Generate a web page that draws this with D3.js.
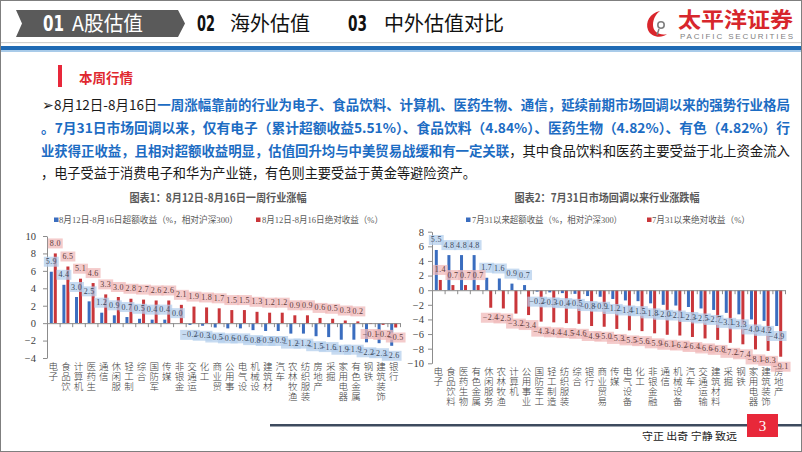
<!DOCTYPE html>
<html><head><meta charset="utf-8">
<script src="https://cdn.jsdelivr.net/npm/d3@7"></script>
<style>
html,body{margin:0;padding:0;background:#fff;}
svg{display:block;}
</style></head>
<body>
<svg id="chart" width="802" height="452"></svg>
<script>
// ---------- DATA ----------
const cats1 = ["电子","食品饮","计算机","医药生","通信","休闲服","轻工制","综合","国防军","传媒","非银金","交通运","化工","商业贸","公用事","电气设","机械设","建筑材","汽车","农林牧渔","纺织服装","房地产","采掘","家用电器","有色金属","钢铁","建筑装饰","银行"];
const excess1 = [5.9,4.4,3.0,2.5,1.2,0.9,0.7,0.5,0.4,0.4,0.0,-0.2,-0.3,-0.5,-0.6,-0.6,-0.8,-0.9,-0.9,-1.2,-1.2,-1.5,-1.6,-1.9,-1.9,-2.2,-2.3,-2.6];
const abs1 = [8.0,6.5,5.1,4.6,3.3,3.0,2.8,2.7,2.6,2.6,2.1,1.9,1.8,1.7,1.5,1.5,1.3,1.2,1.2,0.9,0.9,0.6,0.5,0.3,0.2,-0.1,-0.2,-0.5];
const yTicks1 = [-4,-2,0,2,4,6,8,10];
const title1 = "图表1：8月12日-8月16日一周行业涨幅";
const legend1 = ["8月12日-8月16日超额收益（%，相对沪深300）","8月12日-8月16日绝对收益（%）"];

const cats2 = ["电子","食品饮料","医药生物","有色金属","休闲服务","农林牧渔","计算机","公用事业","国防军工","轻工制造","纺织服装","综合","银行","商业贸易","传媒","电气设备","化工","非银金融","通信","机械设备","汽车","交通运输","建筑材料","采掘","钢铁","家用电器","建筑装饰","房地产"];
const excess2 = [5.5,4.8,4.8,4.8,1.7,1.6,0.9,0.7,-0.2,-0.3,-0.4,-0.5,-0.8,-0.9,-1.2,-1.4,-1.5,-1.8,-2.0,-2.1,-2.3,-2.5,-2.7,-3.1,-3.3,-4.0,-4.2,-4.9];
const abs2 = [1.4,0.7,0.7,0.7,-2.4,-2.5,-3.2,-3.4,-4.3,-4.4,-4.5,-4.6,-4.9,-5.0,-5.3,-5.5,-5.6,-5.9,-6.1,-6.2,-6.4,-6.6,-6.8,-7.2,-7.4,-8.1,-8.3,-9.1];
const yTicks2 = [-10,-8,-6,-4,-2,0,2,4,6,8];
const title2 = "图表2：7月31日市场回调以来行业涨跌幅";
const legend2 = ["7月31以来超额收益（%，相对沪深300）","7月31以来绝对收益（%）"];

const navItems = [["01","A股估值"],["02","海外估值"],["03","中外估值对比"]];
const sectionTitle = "本周行情";
const paraLines = [
  [["➢8月12日-8月16日",0],["一周涨幅靠前的行业为电子、食品饮料、计算机、医药生物、通信，延续前期市场回调以来的强势行业格局",1]],
  [["。7月31日市场回调以来，仅有电子（累计超额收益5.51%）、食品饮料（4.84%）、医药生物（4.82%）、有色（4.82%）行",1]],
  [["业获得正收益，且相对超额收益明显，估值回升均与中美贸易战缓和有一定关联",1],["，其中食品饮料和医药主要受益于北上资金流入",0]],
  [["，电子受益于消费电子和华为产业链，有色则主要受益于黄金等避险资产。",0]]
];
const footerMotto = "守正 出奇 宁静 致远";
const pageNo = "3";

// ---------- STYLE ----------
const CJK = "'Noto Sans CJK SC', sans-serif";
const SERIF = "'Liberation Serif', 'Noto Sans CJK SC', serif";
const BLUE = "#3a6dbf", RED = "#c9363a";
const svg = d3.select("#chart");

// frame
svg.append("rect").attr("x",0.5).attr("y",0.5).attr("width",801).attr("height",451)
  .attr("fill","none").attr("stroke","#7f7f7f").attr("stroke-width",1);

// ---------- HEADER ----------
svg.append("path").attr("d","M16,10 L178,10 L185,23.5 L178,37 L16,37 L22,23.5 Z").attr("fill","#5a5a5a");
const navPos = [{n:43,nw:21,t:72,tw:71,c:"#fff"},{n:197,nw:18,t:230,tw:80,c:"#111"},{n:348,nw:19,t:384,tw:120,c:"#111"}];
navItems.forEach((d,i)=>{
  const p = navPos[i];
  svg.append("text").attr("x",p.n).attr("y",31).text(d[0])
    .attr("font-family","'DejaVu Sans Condensed','Liberation Sans Narrow',sans-serif").attr("font-weight","bold")
    .attr("font-size",21).attr("fill",p.c).attr("textLength",p.nw).attr("lengthAdjust","spacingAndGlyphs");
  svg.append("text").attr("x",p.t).attr("y",31).text(d[1])
    .attr("font-family",CJK).attr("font-size",20).attr("fill",p.c)
    .attr("textLength",p.tw).attr("lengthAdjust","spacingAndGlyphs");
});
// logo
const lg = svg.append("g");
lg.append("path").attr("d","M660,11 C650,13 645,22 648,30 C651,37 661,39 667,34 C660,36 653,32 653,25 C653,18 657,13 660,11 Z").attr("fill","#d9262c");
lg.append("circle").attr("cx",661).attr("cy",25).attr("r",3.2).attr("fill","none").attr("stroke","#7f7f7f").attr("stroke-width",1.6);
lg.append("path").attr("d","M659,29 L657,35").attr("stroke","#7f7f7f").attr("stroke-width",1.5);
svg.append("text").attr("x",678).attr("y",27).text("太平洋证券").attr("font-family",CJK).attr("font-weight","bold")
  .attr("font-size",21).attr("fill","#d7262c").attr("textLength",115).attr("lengthAdjust","spacingAndGlyphs");
svg.append("text").attr("x",680).attr("y",38.5).text("PACIFIC SECURITIES").attr("font-family","'Liberation Sans',sans-serif")
  .attr("font-size",8).attr("fill","#7f7f7f").attr("textLength",113).attr("lengthAdjust","spacing");
// header lines
svg.append("rect").attr("x",1).attr("y",42).attr("width",800).attr("height",1.2).attr("fill","#d0d0d0");
svg.append("rect").attr("x",1).attr("y",46).attr("width",800).attr("height",4).attr("fill","#1f6ab4");
svg.append("rect").attr("x",1).attr("y",50).attr("width",800).attr("height",2).attr("fill","#a9cbe9");

// ---------- SECTION & PARAGRAPH ----------
svg.append("rect").attr("x",58).attr("y",65).attr("width",4).attr("height",22).attr("fill","#e8283a");
svg.append("text").attr("x",79).attr("y",83).text(sectionTitle).attr("font-family",CJK).attr("font-weight","bold")
  .attr("font-size",13.5).attr("fill","#e0282f");
const paraGeom = [{x:42,y:110,w:748},{x:41,y:133,w:749},{x:41,y:156,w:749},{x:41,y:178,w:435}];
paraLines.forEach((line,i)=>{
  const g = paraGeom[i];
  const t = svg.append("text").attr("x",g.x).attr("y",g.y).attr("font-family",CJK).attr("font-size",13.5)
    .attr("textLength",g.w).attr("lengthAdjust","spacingAndGlyphs");
  line.forEach(seg=>{
    t.append("tspan").text(seg[0]).attr("fill",seg[1]?"#1c6cc3":"#1a1a1a").attr("font-weight",seg[1]?"bold":"normal");
  });
});

// ---------- CHARTS ----------
function drawChart(o){
  const g = svg.append("g");
  const x = d3.scaleBand().domain(d3.range(o.cats.length)).range(o.xr).paddingInner(0).paddingOuter(0);
  const y = d3.scaleLinear().domain(o.yd).range(o.yr);
  const bw = 3, off = 2;
  // title
  g.append("text").attr("x",o.titleX).attr("y",o.titleY).attr("text-anchor","middle").text(o.title)
    .attr("font-family",CJK).attr("font-weight","bold").attr("font-size",11).attr("fill","#595959")
    .attr("textLength",o.titleW).attr("lengthAdjust","spacingAndGlyphs");
  // legend
  o.legend.forEach((txt,i)=>{
    const L = o.leg[i];
    g.append("rect").attr("x",L.sx).attr("y",o.legY-2.5).attr("width",4.5).attr("height",4.5).attr("fill",i?RED:BLUE);
    g.append("text").attr("x",L.tx).attr("y",o.legY+3.2).text(txt).attr("font-family",SERIF).attr("font-size",9)
      .attr("fill","#595959").attr("textLength",L.tw).attr("lengthAdjust","spacingAndGlyphs");
  });
  // y axis
  const ya = g.append("g").attr("transform",`translate(${o.xr[0]},0)`)
    .call(d3.axisLeft(y).tickValues(o.ticks).tickSize(4).tickSizeOuter(0).tickPadding(o.tickPad).tickFormat(d3.format("d")));
  ya.select(".domain").attr("stroke","#8c8c8c");
  ya.selectAll(".tick line").attr("stroke","#8c8c8c");
  ya.selectAll(".tick text").attr("font-family",SERIF).attr("font-size",10.5).attr("fill","#404040");
  // bars
  const idx = d3.range(o.cats.length);
  g.selectAll(".b1").data(idx).join("rect")
    .attr("x",i=>x(i)+x.bandwidth()/2-off-bw/2).attr("width",bw)
    .attr("y",i=>y(Math.max(0,o.ex[i]))).attr("height",i=>Math.abs(y(o.ex[i])-y(0)))
    .attr("fill",BLUE);
  g.selectAll(".b2").data(idx).join("rect")
    .attr("x",i=>x(i)+x.bandwidth()/2+off-bw/2).attr("width",bw)
    .attr("y",i=>y(Math.max(0,o.ab[i]))).attr("height",i=>Math.abs(y(o.ab[i])-y(0)))
    .attr("fill",RED);
  // x axis at zero
  const xi = d3.scaleLinear().domain([0,o.cats.length]).range(o.xr);
  const xa = g.append("g").attr("transform",`translate(0,${y(0)})`)
    .call(d3.axisBottom(xi).tickValues(d3.range(o.cats.length+1)).tickSize(4).tickSizeOuter(0).tickFormat(""));
  xa.select(".domain").attr("stroke","#8c8c8c");
  xa.selectAll(".tick line").attr("stroke","#8c8c8c");
  // category labels (vertical writing)
  g.selectAll(".cat").data(o.cats).join("text").attr("class","cat")
    .attr("x",(d,i)=>x(i)+x.bandwidth()/2).attr("y",o.catY).text(d=>d)
    .attr("writing-mode","vertical-rl").attr("text-anchor","start")
    .attr("letter-spacing",0.5)
    .attr("font-family",CJK).attr("font-size",9.5).attr("font-weight",300).attr("fill","#404040");
  // data labels: boxes first, then texts
  const fmt = d3.format(".1f");
  const boxLayer = g.append("g"), textLayer = g.append("g");
  function labels(vals, dx, fill, tcol){
    vals.forEach((v,i)=>{
      const cx = x(i)+x.bandwidth()/2+dx;
      const cy = v>=0 ? y(v)-10 : y(v)+10;
      const t = textLayer.append("text").attr("x",cx).attr("y",cy).text(fmt(v)).attr("text-anchor","middle")
        .attr("dominant-baseline","central").attr("font-family",SERIF).attr("font-size",8)
        .attr("letter-spacing",0.3).attr("fill",tcol);
      const w = t.node().getComputedTextLength()+4;
      boxLayer.append("rect").attr("x",cx-w/2).attr("y",cy-5).attr("width",w).attr("height",10).attr("fill",fill);
    });
  }
  labels(o.ex,-off,"rgba(180,207,236,0.75)","#3b4a5e");
  labels(o.ab,off,"rgba(240,186,186,0.75)","#5e3b3b");
}

drawChart({cats:cats1, ex:excess1, ab:abs1, xr:[47,400], yd:[-4,10], yr:[358,236], ticks:yTicks1, tickPad:7,
  title:title1, titleX:218, titleY:202, titleW:177,
  legend:legend1, legY:220, leg:[{sx:54,tx:59,tw:179},{sx:256,tx:262,tw:121}], catY:362});
drawChart({cats:cats2, ex:excess2, ab:abs2, xr:[432,785], yd:[-10,8], yr:[363.3,231.7], ticks:yTicks2, tickPad:4,
  title:title2, titleX:607, titleY:202, titleW:185,
  legend:legend2, legY:220, leg:[{sx:466,tx:472,tw:150},{sx:647,tx:652,tw:98}], catY:367});

// ---------- FOOTER ----------
svg.append("rect").attr("x",270).attr("y",424).attr("width",532).attr("height",2.5).attr("fill","#3d4b5e");
svg.append("rect").attr("x",747).attr("y",414).attr("width",31).attr("height",23).attr("fill","#e8283a");
svg.append("text").attr("x",762.5).attr("y",431).attr("text-anchor","middle").text(pageNo)
  .attr("font-family",SERIF).attr("font-size",15).attr("fill","#fff");
svg.append("text").attr("x",642).attr("y",440).text(footerMotto).attr("font-family",CJK).attr("font-size",10.5)
  .attr("fill","#222").attr("textLength",95).attr("lengthAdjust","spacingAndGlyphs");
</script>
</body></html>
